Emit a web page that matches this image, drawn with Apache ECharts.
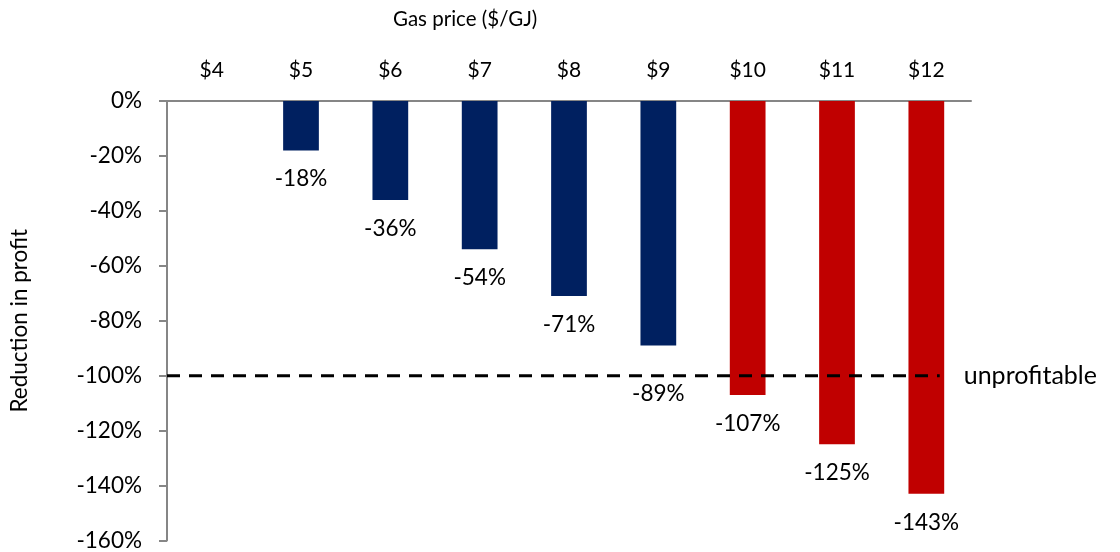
<!DOCTYPE html>
<html>
<head>
<meta charset="utf-8">
<script src="https://cdn.jsdelivr.net/npm/echarts@6/dist/echarts.min.js"></script>
<style>
  html, body { margin: 0; padding: 0; background: #fff; }
  #main { width: 1120px; height: 552px; }
</style>
</head>
<body>
<div id="main"></div>
<script>
var categories = ['$4', '$5', '$6', '$7', '$8', '$9', '$10', '$11', '$12'];
var reduction = [0, -18, -36, -54, -71, -89, -107, -125, -143];
var threshold = -100;
var thresholdEnd = 8.65;   // where the dashed line stops, in category units
var yTicks = { min: -160, max: 0, interval: 20 };

var myChart = echarts.init(document.getElementById('main'));
var FONT = 'Lato';

option = {
    animation: false,
    textStyle: { fontFamily: FONT },
    grid: { left: 166, right: 149, top: 101, bottom: 10 },
    graphic: [{
        type: 'text',
        left: 393,
        top: 9,
        style: { text: 'Gas price ($/GJ)', fontSize: 20.5, fontFamily: FONT, fill: '#000' }
    }],
    xAxis: [
        {
            type: 'category',
            position: 'top',
            data: categories,
            axisLine: { lineStyle: { color: '#868686', width: 2 } },
            axisTick: { inside: true, length: 7, lineStyle: { color: '#868686', width: 2 } },
            axisLabel: { color: '#000', fontSize: 21, margin: 20 }
        },
        {
            type: 'value',
            min: 0,
            max: categories.length,
            show: false
        }
    ],
    yAxis: {
        type: 'value',
        min: yTicks.min,
        max: yTicks.max,
        interval: yTicks.interval,
        name: 'Reduction in profit',
        nameLocation: 'middle',
        nameGap: 136,
        nameTextStyle: { color: '#000', fontSize: 22.5 },
        axisLine: { show: true, lineStyle: { color: '#868686', width: 2 } },
        axisTick: { show: true, length: 8, lineStyle: { color: '#868686', width: 2 } },
        splitLine: { show: false },
        axisLabel: { color: '#000', fontSize: 22.5, margin: 25, formatter: '{value}%' }
    },
    series: [
        {
            type: 'bar',
            xAxisIndex: 0,
            barWidth: '40%',
            data: reduction.map(function (v, i) {
                if (v === 0) return '-';
                return {
                    value: v,
                    itemStyle: { color: v < threshold ? '#C00000' : '#002060' },
                    label: { distance: i === 5 ? 37 : 17 }
                };
            }),
            label: {
                show: true,
                position: 'bottom',
                color: '#000',
                fontSize: 22.5,
                formatter: '{c}%'
            },
            z: 2
        },
        {
            type: 'line',
            xAxisIndex: 1,
            data: [[0, threshold], [thresholdEnd, threshold]],
            symbol: 'none',
            lineStyle: { color: '#000', width: 3, type: [13, 9] },
            endLabel: {
                show: true,
                formatter: 'unprofitable',
                color: '#000',
                fontSize: 25,
                distance: 24
            },
            z: 3
        }
    ]
};

myChart.setOption(option);
</script>
</body>
</html>
